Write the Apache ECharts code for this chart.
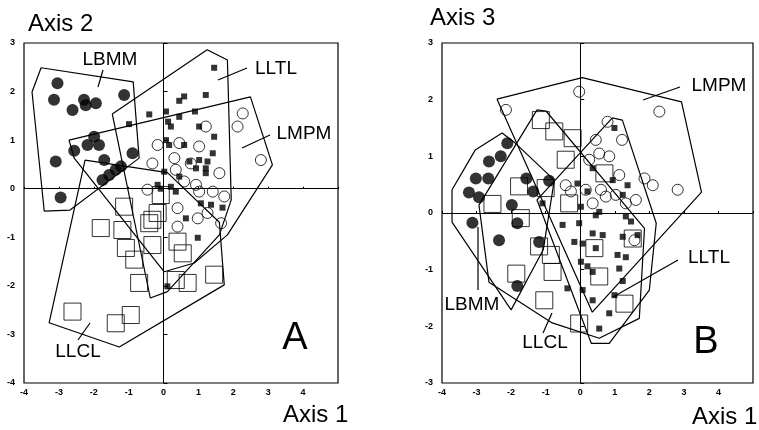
<!DOCTYPE html>
<html>
<head>
<meta charset="utf-8">
<script src="https://cdn.jsdelivr.net/npm/echarts@6/dist/echarts.min.js"></script>
<style>
html,body{margin:0;padding:0;background:#fff;}
#chart{width:759px;height:430px;}
</style>
</head>
<body>
<div id="chart"></div>
<script>
// ---- tick values ----
const xTickMin = -4, xTickMax = 5;
const yTickMinA = -4, yTickMaxA = 3;
const yTickMinB = -3, yTickMaxB = 3;

// ---- Panel A (Axis 1 vs Axis 2) ----
const aLBMM = [[-3.04,2.17],[-3.14,1.83],[-2.28,1.83],[-2.61,1.62],[-2.23,1.72],[-1.94,1.76],[-1.13,1.93],
  [-1.99,1.07],[-2.18,0.90],[-1.85,0.90],[-2.56,0.78],[-3.09,0.56],[-1.70,0.59],[-0.89,0.73],[-2.95,-0.18],
  [-1.75,0.18],[-1.56,0.28],[-1.37,0.39],[-1.22,0.46]];
const aLLTL = [[1.45,2.49],[1.21,1.93],[0.59,1.90],[0.45,1.81],[-0.41,1.53],[0.07,1.59],[0.45,1.48],[0.90,1.59],
  [-0.99,1.33],[0.13,1.38],[0.21,1.28],[1.02,1.28],[1.45,1.07],[0.07,1.00],[0.16,0.90],[0.59,0.90],[1.41,0.73],
  [1.02,0.59],[1.26,0.56],[0.74,0.56],[0.93,0.42],[1.21,0.42],[1.21,0.32],[0.45,0.25],[0.02,0.35],[-0.17,0.08],
  [-0.08,0.00],[0.21,0.04],[0.35,-0.06],[1.07,-0.30],[1.36,-0.33],[1.69,-0.39],[0.64,-0.61],[0.98,-1.01],[0.11,-2.01]];
const aLMPM = [[2.27,1.55],[2.12,1.28],[2.79,0.59],[1.21,1.28],[1.02,0.87],[1.60,0.32],[0.45,0.94],[-0.17,0.90],
  [-0.32,0.52],[0.35,0.39],[0.78,0.52],[0.93,0.08],[0.59,0.15],[1.41,-0.06],[1.74,-0.16],[1.02,-0.06],
  [1.26,-0.50],[1.65,-0.71],[0.98,-0.61],[0.40,-0.78],[0.40,-0.40],[-0.46,-0.02],[0.31,0.63]];
const aLLCL = [[-2.61,-2.53],[-0.94,-2.60],[-1.37,-2.77],[-1.13,-0.37],[-1.80,-0.81],[-1.18,-0.85],[-0.32,-0.64],
  [-0.41,-0.71],[-1.08,-1.22],[-0.84,-1.46],[-0.32,-1.16],[0.55,-1.33],[-0.70,-1.94],[0.35,-1.88],[1.45,-1.77],
  [0.69,-1.94],[-0.08,-0.13],[-0.17,-0.50],[0.40,-1.09]];
const aHullLBMM = [[-3.77,1.99],[-3.51,2.49],[-0.87,2.20],[-0.70,0.63],[-2.68,-0.44],[-3.42,-0.46]];
const aHullLLTL = [[-1.47,1.54],[1.25,2.86],[1.83,2.65],[1.94,-0.23],[1.60,-0.95],[0.11,-2.12],[-0.38,-2.25]];
const aHullLMPM = [[-2.71,1.00],[2.49,1.89],[3.12,0.49],[1.83,-0.95],[0.88,-1.53],[0.02,-1.71],[-2.56,0.63]];
const aHullLLCL = [[-2.25,0.59],[0.11,0.33],[1.60,-0.69],[1.74,-1.98],[-1.27,-3.26],[-3.28,-2.76]];

// ---- Panel B (Axis 1 vs Axis 3) ----
const bLBMM = [[-2.11,1.23],[-2.30,1.00],[-2.64,0.91],[-3.02,0.61],[-2.66,0.61],[-3.22,0.36],[-2.93,0.28],
  [-3.12,-0.17],[-2.35,-0.48],[-1.82,-1.29],[-1.56,0.61],[-1.36,0.38],[-0.90,0.57],[-1.98,0.14],[-1.82,-0.18],[-1.19,-0.51]];
const bLLTL = [[0.99,1.50],[0.36,0.79],[0.94,0.58],[-0.08,0.52],[0.21,0.38],[1.23,0.32],[1.37,0.49],[0.55,0.02],
  [0.45,-0.04],[1.32,-0.06],[1.47,-0.15],[-0.03,-0.18],[-0.51,-0.21],[0.36,-0.36],[0.65,-0.39],[1.23,-0.42],
  [1.66,-0.39],[-0.17,-0.51],[0.07,-0.54],[0.45,-0.62],[1.08,-0.74],[1.32,-0.78],[0.02,-0.86],[0.21,-0.94],
  [0.36,-1.04],[1.13,-0.98],[1.23,-1.20],[-0.37,-1.33],[0.07,-1.36],[0.36,-1.54],[0.99,-1.45],[0.84,-1.77],
  [0.55,-2.04],[-1.09,0.17],[0.02,0.11]];
const bLMPM = [[-0.03,2.14],[-2.15,1.82],[2.29,1.79],[2.82,0.41],[0.79,1.61],[1.21,1.29],[0.45,1.29],[0.84,1.00],
  [0.26,0.94],[0.55,1.05],[1.13,0.67],[1.86,0.61],[2.10,0.49],[-0.42,0.49],[-0.27,0.38],[0.16,0.41],[0.60,0.41],
  [0.74,0.29],[1.03,0.32],[1.32,0.17],[1.61,0.23],[0.36,0.17],[1.57,-0.48]];
const bLLCL = [[-1.14,1.64],[-0.75,1.44],[-0.22,1.32],[-0.42,0.94],[0.70,0.70],[-1.77,0.47],[-2.54,0.16],
  [-1.72,-0.09],[-1.19,-0.59],[-0.85,-0.74],[-0.80,-1.04],[-1.85,-1.07],[-1.04,-1.54],[-0.03,-1.95],[0.41,-0.62],
  [0.55,-1.12],[1.28,-1.60],[-0.32,0.17],[-1.00,0.44],[1.52,-0.45]];
const bHullLBMM = [[-3.71,0.41],[-3.04,1.11],[-2.26,1.41],[-1.91,1.25],[-0.75,0.58],[-1.07,-0.65],[-2.00,-1.71],[-3.71,-0.16]];
const bHullLLTL = [[0.93,1.68],[1.22,1.64],[2.20,-0.18],[2.00,-1.36],[0.84,-2.30],[0.32,-2.30],[-1.25,0.23]];
const bHullLMPM = [[-2.41,2.01],[0.06,2.39],[2.93,1.96],[3.51,0.37],[0.35,-1.75]];
const bHullLLCL = [[-1.25,1.82],[-0.99,1.80],[1.86,-0.27],[1.71,-1.86],[0.55,-2.21],[-0.81,-1.94],[-2.64,-1.22],[-2.93,0.14]];

const FONT = 'Liberation Sans, Arial, sans-serif';

function closed(h){ return h.concat([h[0]]); }
function hullSeries(h, gi){
  return {type:'line', xAxisIndex:gi, yAxisIndex:gi, data:closed(h), symbol:'none', silent:true,
    lineStyle:{color:'#000', width:1.2}, z:3, animation:false};
}
function scatterSet(lbmm, lltl, lmpm, llcl, gi){
  return [
    {type:'scatter', xAxisIndex:gi, yAxisIndex:gi, data:llcl, symbol:'rect', symbolSize:17,
      itemStyle:{color:'rgba(255,255,255,0)', borderColor:'#000', borderWidth:1}, z:2, animation:false},
    {type:'scatter', xAxisIndex:gi, yAxisIndex:gi, data:lmpm, symbol:'circle', symbolSize:11,
      itemStyle:{color:'rgba(255,255,255,0)', borderColor:'#000', borderWidth:1}, z:2, animation:false},
    {type:'scatter', xAxisIndex:gi, yAxisIndex:gi, data:lbmm, symbol:'circle', symbolSize:12,
      itemStyle:{color:'#000'}, z:2, animation:false},
    {type:'scatter', xAxisIndex:gi, yAxisIndex:gi, data:lltl, symbol:'rect', symbolSize:6,
      itemStyle:{color:'#000'}, z:2, animation:false}
  ];
}
function zeroLines(gi){
  return {type:'line', xAxisIndex:gi, yAxisIndex:gi, data:[], silent:true, animation:false,
    markLine:{silent:true, symbol:['none','none'], label:{show:false}, animation:false,
      lineStyle:{color:'#000', type:'solid', width:1},
      data:[{xAxis:0},{yAxis:0}]}};
}
function xAx(gi){
  return {gridIndex:gi, type:'value', min:xTickMin, max:xTickMax, interval:1,
    axisLine:{show:false}, splitLine:{show:false},
    axisTick:{show:true, inside:true, length:2, lineStyle:{color:'#000'}},
    axisLabel:{color:'#000', fontSize:9, fontWeight:'bold', fontFamily:FONT, margin:5,
      formatter:v => (v === xTickMax ? '' : String(v))}};
}
function yAx(gi, mn, mx){
  return {gridIndex:gi, type:'value', min:mn, max:mx, interval:1,
    axisLine:{show:false}, splitLine:{show:false},
    axisTick:{show:true, inside:true, length:4, lineStyle:{color:'#000'}},
    axisLabel:{color:'#000', fontSize:9, fontWeight:'bold', fontFamily:FONT, margin:9}};
}
function txt(x, y, s, size, align){
  return {type:'text', x:x, y:y, silent:true,
    style:{text:s, fill:'#000', font:size+'px '+FONT, textAlign:align||'center', textVerticalAlign:'middle'}};
}
function seg(x1,y1,x2,y2){
  return {type:'line', silent:true, shape:{x1:x1,y1:y1,x2:x2,y2:y2}, style:{stroke:'#000', lineWidth:1.2}};
}

const chart = echarts.init(document.getElementById('chart'), null, {renderer:'canvas'});
chart.setOption({
  animation:false,
  backgroundColor:'#fff',
  grid:[
    {left:24, top:43, width:314, height:340, show:true, borderColor:'#000', borderWidth:1.2},
    {left:442, top:43, width:311, height:340, show:true, borderColor:'#000', borderWidth:1.2}
  ],
  xAxis:[xAx(0), xAx(1)],
  yAxis:[yAx(0, yTickMinA, yTickMaxA), yAx(1, yTickMinB, yTickMaxB)],
  series:[
    zeroLines(0), zeroLines(1),
    ...scatterSet(aLBMM, aLLTL, aLMPM, aLLCL, 0),
    ...scatterSet(bLBMM, bLLTL, bLMPM, bLLCL, 1),
    hullSeries(aHullLBMM,0), hullSeries(aHullLLTL,0), hullSeries(aHullLMPM,0), hullSeries(aHullLLCL,0),
    hullSeries(bHullLBMM,1), hullSeries(bHullLLTL,1), hullSeries(bHullLMPM,1), hullSeries(bHullLLCL,1)
  ],
  graphic:[
    txt(28, 24, 'Axis 2', 24, 'left'),
    txt(430, 18, 'Axis 3', 24, 'left'),
    txt(283, 415, 'Axis 1', 24, 'left'),
    txt(692, 417, 'Axis 1', 24, 'left'),
    txt(295, 339, 'A', 38),
    txt(706, 343, 'B', 38),
    txt(110, 60, 'LBMM', 19), seg(103,70,98,87),
    txt(276, 69, 'LLTL', 19), seg(247,68,218,80),
    txt(304, 134, 'LMPM', 19), seg(270,135,242,148),
    txt(78, 352, 'LLCL', 19), seg(90,323,78,340),
    txt(719, 86, 'LMPM', 19), seg(680,87,643,100),
    txt(709, 258, 'LLTL', 19), seg(678,260,613,297),
    txt(472, 305, 'LBMM', 19), seg(478,227,478,290),
    txt(545, 343, 'LLCL', 19), seg(552,313,543,333)
  ]
});
</script>
</body>
</html>
